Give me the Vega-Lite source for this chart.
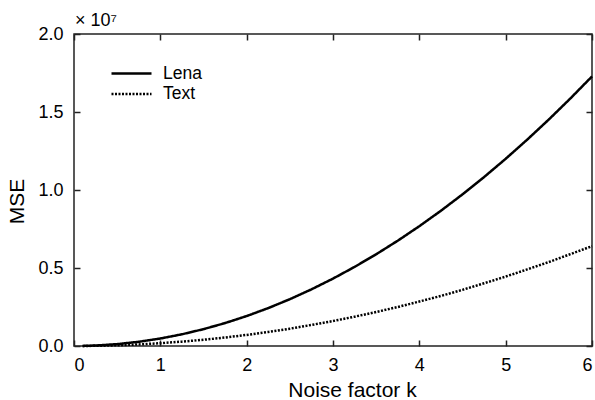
{
 "$schema": "https://vega.github.io/schema/vega-lite/v6.json",
 "width": 518, "height": 312,
 "autosize": "none",
 "padding": {"left": 74, "top": 34, "right": 3, "bottom": 54},
 "background": "white",
 "config": {
  "view": {"stroke": "#222", "strokeWidth": 1.5},
  "font": "Liberation Sans",
  "axis": {"grid": false, "domain": false, "tickColor": "#222", "tickSize": -6, "tickWidth": 1.5,
           "labelFontSize": 18, "titleFontSize": 21, "labelColor": "black", "titleColor": "black", "titleFontWeight": "normal"}
 },
 "title": {"text": "× 10⁷", "anchor": "start", "frame": "group", "fontSize": 18, "fontWeight": "normal", "color": "black", "offset": 8, "dx": 1, "dy": 13},
 "data": {"values": [
  {"k": 0.1, "mse": 5000, "series": "Lena"},
  {"k": 0.25, "mse": 30000, "series": "Lena"},
  {"k": 0.5, "mse": 120000, "series": "Lena"},
  {"k": 0.75, "mse": 270000, "series": "Lena"},
  {"k": 1.0, "mse": 480000, "series": "Lena"},
  {"k": 1.25, "mse": 750000, "series": "Lena"},
  {"k": 1.5, "mse": 1080000, "series": "Lena"},
  {"k": 1.75, "mse": 1470000, "series": "Lena"},
  {"k": 2.0, "mse": 1920000, "series": "Lena"},
  {"k": 2.25, "mse": 2430000, "series": "Lena"},
  {"k": 2.5, "mse": 3000000, "series": "Lena"},
  {"k": 2.75, "mse": 3630000, "series": "Lena"},
  {"k": 3.0, "mse": 4320000, "series": "Lena"},
  {"k": 3.25, "mse": 5070000, "series": "Lena"},
  {"k": 3.5, "mse": 5880000, "series": "Lena"},
  {"k": 3.75, "mse": 6750000, "series": "Lena"},
  {"k": 4.0, "mse": 7680000, "series": "Lena"},
  {"k": 4.25, "mse": 8670000, "series": "Lena"},
  {"k": 4.5, "mse": 9720000, "series": "Lena"},
  {"k": 4.75, "mse": 10830000, "series": "Lena"},
  {"k": 5.0, "mse": 12000000, "series": "Lena"},
  {"k": 5.25, "mse": 13230000, "series": "Lena"},
  {"k": 5.5, "mse": 14520000, "series": "Lena"},
  {"k": 5.75, "mse": 15870000, "series": "Lena"},
  {"k": 6.0, "mse": 17280000, "series": "Lena"},
  {"k": 0.1, "mse": 2000, "series": "Text"},
  {"k": 0.25, "mse": 11000, "series": "Text"},
  {"k": 0.5, "mse": 45000, "series": "Text"},
  {"k": 0.75, "mse": 100000, "series": "Text"},
  {"k": 1.0, "mse": 178000, "series": "Text"},
  {"k": 1.25, "mse": 280000, "series": "Text"},
  {"k": 1.5, "mse": 400000, "series": "Text"},
  {"k": 1.75, "mse": 545000, "series": "Text"},
  {"k": 2.0, "mse": 710000, "series": "Text"},
  {"k": 2.25, "mse": 900000, "series": "Text"},
  {"k": 2.5, "mse": 1110000, "series": "Text"},
  {"k": 2.75, "mse": 1350000, "series": "Text"},
  {"k": 3.0, "mse": 1600000, "series": "Text"},
  {"k": 3.25, "mse": 1880000, "series": "Text"},
  {"k": 3.5, "mse": 2180000, "series": "Text"},
  {"k": 3.75, "mse": 2500000, "series": "Text"},
  {"k": 4.0, "mse": 2850000, "series": "Text"},
  {"k": 4.25, "mse": 3210000, "series": "Text"},
  {"k": 4.5, "mse": 3600000, "series": "Text"},
  {"k": 4.75, "mse": 4020000, "series": "Text"},
  {"k": 5.0, "mse": 4450000, "series": "Text"},
  {"k": 5.25, "mse": 4910000, "series": "Text"},
  {"k": 5.5, "mse": 5380000, "series": "Text"},
  {"k": 5.75, "mse": 5890000, "series": "Text"},
  {"k": 6.0, "mse": 6400000, "series": "Text"}
 ]},
 "layer": [
  {
   "mark": {"type": "line", "strokeWidth": 2.5},
   "encoding": {
    "x": {"field": "k", "type": "quantitative", "scale": {"domain": [0, 6], "nice": false},
          "axis": {"orient": "bottom", "values": [0, 1, 2, 3, 4, 5, 6], "labelPadding": 16, "title": "Noise factor k", "titleX": 278, "titleY": 50, "titleBaseline": "alphabetic", "titleAlign": "center"}},
    "y": {"field": "mse", "type": "quantitative", "scale": {"domain": [0, 20000000], "nice": false},
          "axis": {"orient": "left", "values": [0, 5000000, 10000000, 15000000, 20000000], "labelExpr": "format(datum.value/1e7, '.1f')", "labelPadding": 17, "title": "MSE", "titleX": -51, "titleY": 167, "titleBaseline": "alphabetic", "titleAlign": "center", "titleAngle": -90}},
    "color": {"field": "series", "type": "nominal", "scale": {"domain": ["Lena", "Text"], "range": ["black", "black"]},
              "legend": {"orient": "none", "legendX": 46, "legendY": 28, "title": null, "symbolType": "M-2,0H2", "symbolSize": 400, "symbolStrokeWidth": 2.5, "labelFontSize": 17.5, "rowPadding": 0.5, "labelOffset": 20, "labelColor": "black"}},
    "strokeDash": {"field": "series", "type": "nominal", "scale": {"domain": ["Lena", "Text"], "range": [[1, 0], [2, 1.5]]}}
   }
  },
  {
   "mark": {"type": "line", "opacity": 0},
   "encoding": {
    "x": {"field": "k", "type": "quantitative", "axis": {"orient": "top", "values": [0, 1, 2, 3, 4, 5, 6], "labels": false, "title": null}},
    "y": {"field": "mse", "type": "quantitative", "axis": {"orient": "right", "values": [0, 5000000, 10000000, 15000000, 20000000], "labels": false, "title": null}}
   }
  }
 ],
 "resolve": {"axis": {"x": "independent", "y": "independent"}}
}
